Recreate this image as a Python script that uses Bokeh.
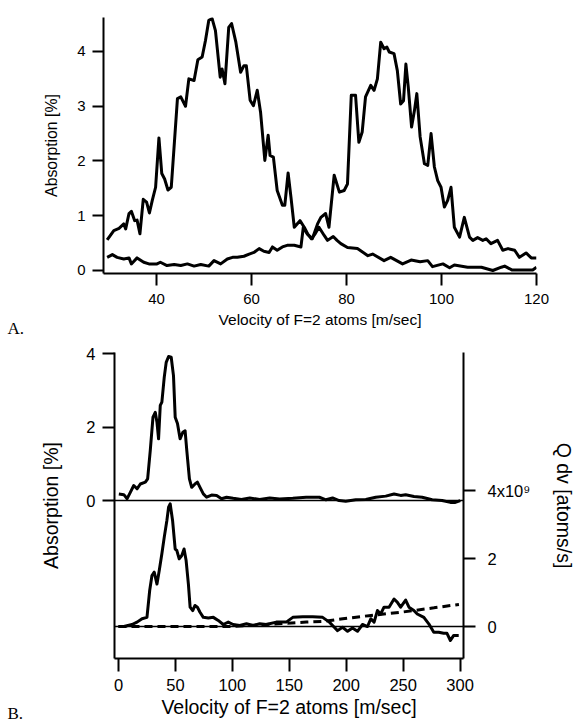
from bokeh.plotting import figure
from bokeh.models import Range1d, LinearAxis, FixedTicker, Label
from bokeh.embed import file_html
from bokeh.resources import INLINE

# ---------------- Panel A data ----------------
v1 = [29.6, 31.0, 32.1, 33.1, 33.5, 34.2, 34.7, 35.4, 35.9, 36.5, 37.2, 37.9, 38.5, 39.1, 39.8,
      40.5, 41.1, 41.7, 42.4, 43.1, 44.4, 45.1, 46.1, 46.8, 47.9, 48.7, 49.6, 50.3, 51.0, 51.7,
      52.4, 53.4, 53.8, 54.4, 55.2, 55.8, 56.7, 57.7, 58.4, 58.9, 59.7, 60.4, 61.2, 61.9, 62.8,
      63.5, 63.9, 64.6, 65.4, 66.5, 67.0, 67.7, 68.3, 69.0, 70.2, 71.1, 71.8, 72.6, 73.4, 74.2,
      75.3, 76.0, 77.2, 78.0, 78.8, 80.2, 82.3, 84.5, 85.5, 87.9, 89.3, 91.8, 93.6, 95.5, 97.1,
      98.1, 100.3, 101.7, 102.7, 105.5, 108.4, 110.8, 112.6, 113.3, 114.8, 116.9, 119.2, 120.0]
a1 = [0.56, 0.73, 0.77, 0.85, 0.76, 1.04, 1.08, 0.91, 0.92, 0.67, 1.30, 1.25, 1.05, 1.28, 1.52,
      2.42, 1.77, 1.67, 1.47, 1.52, 3.14, 3.17, 3.00, 3.50, 3.47, 3.85, 3.90, 4.20, 4.57, 4.60,
      4.38, 3.53, 3.68, 3.41, 4.44, 4.51, 4.17, 3.62, 3.74, 3.74, 3.11, 3.01, 3.29, 2.89, 2.01,
      2.47, 2.10, 2.07, 1.46, 1.19, 1.19, 1.78, 1.34, 0.79, 0.91, 0.79, 0.67, 0.58, 0.67, 0.79,
      0.64, 0.55, 0.62, 0.55, 0.49, 0.42, 0.40, 0.27, 0.30, 0.18, 0.24, 0.12, 0.19, 0.16, 0.18,
      0.07, 0.12, 0.05, 0.10, 0.06, 0.06, 0.00, 0.06, 0.08, 0.01, 0.01, 0.01, 0.06]

v2 = [29.6, 30.7, 31.7, 33.1, 34.2, 34.7, 35.9, 37.3, 38.4, 40.1, 40.8, 42.2, 43.7, 45.1, 46.5,
      47.9, 49.3, 51.0, 52.1, 53.5, 54.9, 56.0, 57.0, 58.4, 59.5, 60.5, 61.6, 62.6, 63.7, 64.4,
      65.4, 66.5, 67.5, 69.0, 70.4, 70.9, 71.7, 72.8, 73.9, 74.6, 75.6, 76.3, 77.4, 78.5, 79.5,
      80.2, 81.0, 81.9, 82.6, 83.3, 84.0, 85.1, 85.8, 86.5, 87.2, 87.9, 88.5, 89.0, 90.0, 90.7,
      91.4, 92.0, 92.5, 93.0, 93.7, 94.3, 94.8, 95.5, 96.4, 97.1, 97.8, 98.5, 99.2, 99.9, 100.6,
      101.3, 102.0, 102.7, 103.8, 104.8, 105.9, 106.6, 107.6, 108.7, 109.4, 110.4, 111.8, 112.9,
      114.0, 115.4, 116.4, 117.8, 118.9, 120.0]
a2 = [0.24, 0.29, 0.24, 0.21, 0.23, 0.12, 0.23, 0.15, 0.12, 0.12, 0.15, 0.09, 0.11, 0.09, 0.12,
      0.08, 0.11, 0.08, 0.18, 0.12, 0.21, 0.24, 0.24, 0.26, 0.30, 0.33, 0.40, 0.35, 0.33, 0.43,
      0.37, 0.43, 0.46, 0.46, 0.43, 0.79, 0.67, 0.58, 0.85, 0.97, 1.04, 0.79, 1.74, 1.43, 1.46,
      1.58, 3.20, 3.20, 2.34, 2.53, 3.17, 3.38, 3.29, 3.50, 4.17, 4.05, 4.08, 3.99, 3.96, 3.65,
      3.04, 3.10, 3.77, 3.35, 2.62, 2.92, 3.23, 2.44, 1.95, 1.92, 2.50, 1.89, 1.64, 1.52, 1.16,
      1.28, 1.52, 0.79, 0.61, 0.97, 0.61, 0.55, 0.60, 0.55, 0.58, 0.49, 0.55, 0.37,
      0.40, 0.37, 0.24, 0.32, 0.23, 0.23]

a_xticks = [40, 60, 80, 100, 120]
a_yticks = [0, 1, 2, 3, 4]

# ---------------- Panel B data ----------------
vb1 = [0.3, 4.7, 7.6, 10.5, 13.4, 16.3, 19.2, 23.6, 25.6, 27.9, 30.3, 32.3, 33.8, 35.2, 36.7,
       38.1, 40.2, 41.9, 44.0, 46.3, 48.3, 49.8, 51.8, 54.1, 56.5, 58.5, 60.0, 62.3, 64.3, 67.2,
       69.3, 71.6, 74.5, 77.4, 81.8, 86.2, 90.5, 94.9, 100.7, 108.0, 115.3, 124.0, 132.8, 141.5,
       153.1, 164.8, 176.4, 182.2, 188.0, 193.8, 199.6, 208.4, 217.2, 225.9, 234.7, 242.0, 247.8,
       252.2, 259.5, 266.7, 275.5, 284.2, 291.5, 295.8, 300.2]
ab1 = [0.18, 0.16, 0.05, 0.23, 0.41, 0.32, 0.45, 0.50, 0.59, 1.36, 2.27, 2.40, 2.13, 1.68, 2.59,
       2.68, 3.36, 3.76, 3.92, 3.90, 3.40, 2.27, 2.10, 1.68, 1.86, 1.90, 1.36, 0.59, 0.36, 0.45,
       0.50, 0.36, 0.18, 0.09, 0.15, 0.14, 0.05, 0.09, 0.06, 0.03, 0.07, 0.03, 0.07, 0.04,
       0.06, 0.09, 0.09, 0.02, 0.07, 0.00, -0.02, 0.02, 0.03, 0.09, 0.12, 0.18, 0.14,
       0.16, 0.11, 0.09, 0.02, 0.00, -0.05, -0.05, 0.00]

vb2 = [0.0, 4.7, 11.9, 16.3, 20.7, 25.0, 27.4, 29.4, 31.4, 33.8, 35.8, 38.1, 40.2, 42.5, 44.0,
       45.4, 47.5, 49.8, 51.2, 53.3, 55.6, 57.6, 59.4, 61.4, 62.9, 65.2, 67.2, 69.3, 71.6, 74.5,
       78.9, 83.3, 87.6, 92.0, 96.4, 100.7, 106.5, 112.4, 118.2, 124.0, 129.8, 138.6, 147.3, 153.1,
       161.9, 170.6, 179.3, 185.2, 189.5, 192.4, 196.8, 201.2, 205.5, 209.9, 214.3, 218.7, 221.6,
       224.5, 227.4, 230.3, 233.2, 237.6, 242.0, 244.8, 247.8, 252.2, 255.1, 259.4, 262.4, 268.2,
       272.5, 276.9, 281.2, 285.6, 288.5, 291.5, 294.4, 298.8]
qb2 = [0.0, 0.0, 0.06, 0.13, 0.23, 0.27, 1.06, 1.50, 1.60, 1.25, 1.65, 2.14, 2.63, 3.12, 3.51,
       3.61, 3.12, 2.28, 2.24, 1.99, 2.09, 2.28, 1.94, 1.25, 0.57, 0.47, 0.62, 0.57, 0.42, 0.27,
       0.25, 0.27, 0.18, 0.06, 0.13, 0.06, 0.03, 0.08, 0.03, 0.08, 0.06, 0.13, 0.13, 0.27,
       0.29, 0.29, 0.27, 0.13, -0.02, -0.12, -0.02, -0.14, -0.04, -0.14, 0.06, 0.00, 0.23,
       0.13, 0.47, 0.37, 0.57, 0.57, 0.81, 0.72, 0.57, 0.78, 0.57, 0.47, 0.37, 0.27,
       0.08, -0.17, -0.17, -0.20, -0.20, -0.41, -0.26, -0.26]

vd = [0, 100, 140, 165, 180, 197, 220, 248, 277, 299]
qd = [0.0, 0.0, 0.08, 0.13, 0.15, 0.23, 0.32, 0.42, 0.55, 0.65]

b_xticks = [0, 50, 100, 150, 200, 250, 300]
b_yticks = [0, 2, 4]
b_rticks = [0, 2, 4]
b_rlabels = {4: "4x10⁹"}

FONT = "Liberation Sans"
SERIF = "Liberation Serif"


def style_axis(ax, tick_out, tick_std, label_std, tick_size, label_size):
    ax.axis_line_width = 2
    ax.axis_line_color = "black"
    ax.major_tick_line_width = 2
    ax.major_tick_line_color = "black"
    ax.major_tick_out = tick_out
    ax.major_tick_in = 0
    ax.minor_tick_out = 0
    ax.minor_tick_in = 0
    ax.minor_tick_line_color = None
    ax.major_label_standoff = tick_std
    ax.axis_label_standoff = label_std
    ax.major_label_text_font = FONT
    ax.major_label_text_font_size = tick_size
    ax.major_label_text_color = "black"
    ax.axis_label_text_font = FONT
    ax.axis_label_text_font_size = label_size
    ax.axis_label_text_font_style = "normal"
    ax.axis_label_text_color = "black"


# ---------------- Panel A ----------------
ax0, ax1 = 28.83, 120.0
ay0, ay1 = -0.055, 4.62
pa = figure(width=578, height=340, output_backend="svg", toolbar_location=None,
            x_range=Range1d(ax0, ax1), y_range=Range1d(ay0, ay1),
            min_border_left=103, min_border_right=42, min_border_top=17, min_border_bottom=67,
            x_axis_label="Velocity of F=2 atoms [m/sec]", y_axis_label="Absorption [%]")
pa.outline_line_color = None
pa.grid.visible = False
pa.background_fill_color = "white"
pa.border_fill_color = "white"
pa.xaxis.ticker = FixedTicker(ticks=a_xticks)
pa.yaxis.ticker = FixedTicker(ticks=a_yticks)
style_axis(pa.xaxis[0], 12, 8, 4, "15px", "15.5px")
style_axis(pa.yaxis[0], 11, 7, 14, "15px", "15.8px")
pa.line(v1, a1, line_width=3, color="black", line_join="round")
pa.line(v2, a2, line_width=3, color="black", line_join="round")
pa.add_layout(Label(x=ax0, y=ay0, x_offset=-96, y_offset=-55, text="A.",
                    text_font=SERIF, text_font_size="17px", text_baseline="middle",
                    text_align="left", text_color="black"), "left")

# ---------------- Panel B ----------------
bx0, bx1 = -3.5, 303.0
by0, by1 = -4.30, 4.03
pb = figure(width=578, height=383, output_backend="svg", toolbar_location=None,
            x_range=Range1d(bx0, bx1), y_range=Range1d(by0, by1),
            min_border_left=114, min_border_right=113, min_border_top=12, min_border_bottom=65,
            x_axis_label="Velocity of F=2 atoms [m/sec]", y_axis_label="Absorption [%]")
pb.extra_y_ranges = {"right": Range1d(-0.94, 8.06)}
pb.outline_line_color = None
pb.grid.visible = False
pb.background_fill_color = "white"
pb.border_fill_color = "white"
pb.xaxis.ticker = FixedTicker(ticks=b_xticks)
pb.yaxis.ticker = FixedTicker(ticks=b_yticks)
style_axis(pb.xaxis[0], 13, 7, 2, "16.5px", "19.5px")
style_axis(pb.yaxis[0], 12, 7, 21, "16.5px", "19.5px")

rax = LinearAxis(y_range_name="right", axis_label="Q dv [atoms/s]",
                 ticker=FixedTicker(ticks=b_rticks))
rax.major_label_overrides = b_rlabels
style_axis(rax, 12, 12, 20, "16.5px", "19.5px")
pb.add_layout(rax, "right")

pb.hspan(y=[0], line_width=1.5, line_color="black")
pb.hspan(y=[0], line_width=1.5, line_color="black", y_range_name="right")
pb.line(vb1, ab1, line_width=3, color="black", line_join="round")
pb.line(vb2, qb2, line_width=3, color="black", line_join="round", y_range_name="right")
pb.line(vd, qd, line_width=3, color="black", line_dash="8 5", y_range_name="right")
pb.add_layout(Label(x=bx0, y=by0, x_offset=-107, y_offset=-55, text="B.",
                    text_font=SERIF, text_font_size="17px", text_baseline="middle",
                    text_align="left", text_color="black"), "left")

open("out.html", "w").write(file_html([pa, pb], INLINE))
